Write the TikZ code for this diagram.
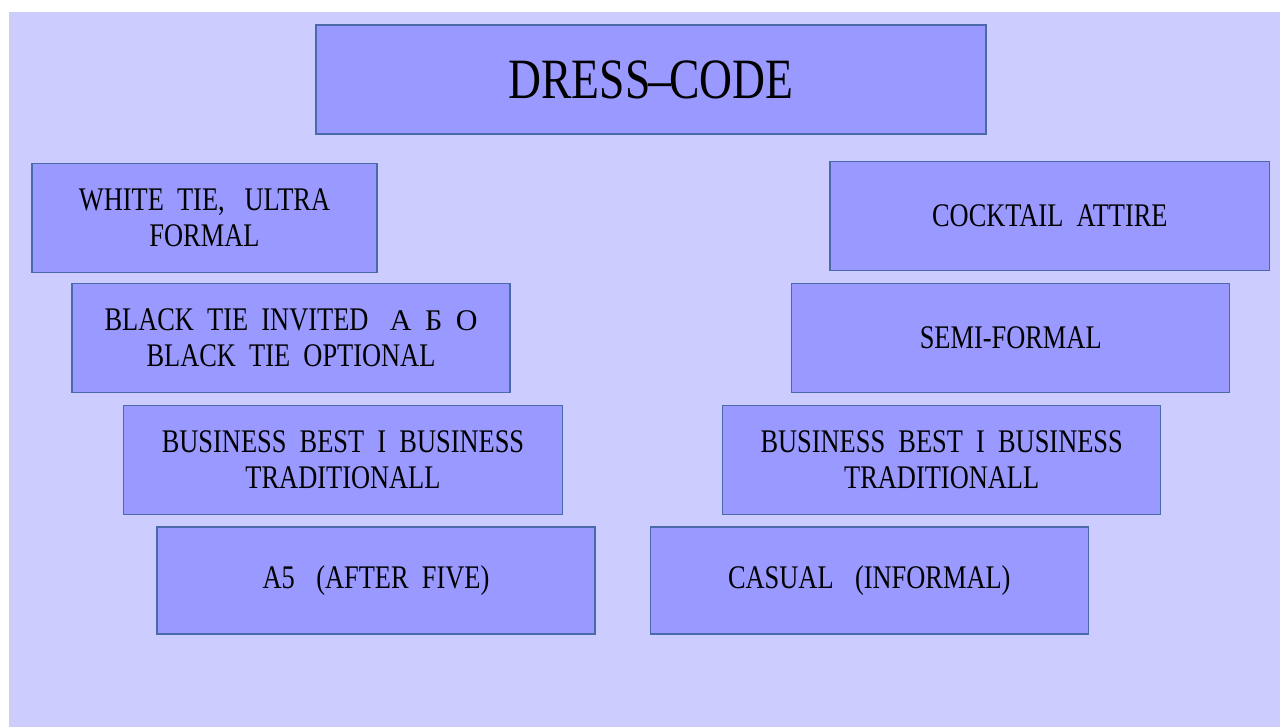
\documentclass[tikz,border=0pt]{standalone}
\usepackage{fontspec}
\setmainfont[FakeStretch=0.8,WordSpace=2]{Liberation Serif}
\newfontfamily\cyrfont{Liberation Serif}
\definecolor{bgcol}{HTML}{CCCCFF}
\definecolor{boxcol}{HTML}{9999FF}
\definecolor{edgecol}{HTML}{4A6AAA}
\begin{document}
\begin{tikzpicture}[x=1pt,y=-1pt,
  cbox/.style={draw=edgecol, fill=boxcol, line width=1.3pt, inner sep=0pt,
    align=center, minimum width=438, minimum height=109,
    font=\fontsize{33}{36}\selectfont},
  titlebox/.style={cbox, minimum width=670, minimum height=109,
    font=\fontsize{57}{60}\selectfont}]
\useasboundingbox (0,0) rectangle (1280,727);
\fill[bgcol] (9,12) rectangle (1280,727);
\node[titlebox] (title) at (651,79.5) {DRESS\kern-2pt--\kern-2pt CODE};
\node[cbox, minimum width=345] (white) at (204.5,217.7) {WHITE TIE,\hspace{0.2em} ULTRA\\FORMAL};
\node[cbox] (black) at (291,337.7) {BLACK TIE INVITED\hspace{0.65em}{\cyrfont\fontsize{30}{36}\selectfont А\hspace{0.45em}Б\hspace{0.45em}О}\\BLACK TIE OPTIONAL};
\node[cbox, minimum width=439.5] (busl) at (343,459.8) {BUSINESS BEST I BUSINESS\\TRADITIONALL};
\node[cbox, minimum height=107] (a5) at (376,580.5) {A5\hspace{0.25em} (AFTER FIVE)};
\node[cbox, minimum width=439.7] (cocktail) at (1049.8,216.2) {COCKTAIL ATTIRE};
\node[cbox] (semi) at (1010.7,337.8) {SEMI-FORMAL};
\node[cbox] (busr) at (941.7,459.8) {BUSINESS BEST I BUSINESS\\TRADITIONALL};
\node[cbox, minimum height=107] (casual) at (869.3,580.5) {CASUAL\hspace{0.25em} (INFORMAL)};
\end{tikzpicture}
\end{document}
